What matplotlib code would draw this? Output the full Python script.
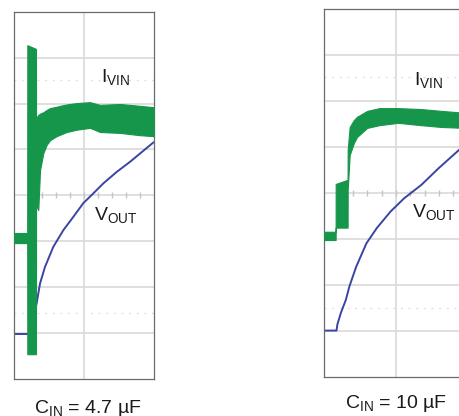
import matplotlib
matplotlib.use("Agg")
import matplotlib.pyplot as plt
import numpy as np

plt.rcParams['font.family'] = ['Liberation Sans', 'DejaVu Sans']
plt.rcParams['mathtext.fontset'] = 'custom'
plt.rcParams['mathtext.rm'] = 'Liberation Sans'
plt.rcParams['mathtext.it'] = 'Liberation Sans'

# ---- data (scope divisions: x -1..1, y -4..4) ----
# Left panel, C_IN = 4.7 uF
left_ivin_x = [-1.0, -0.815, -0.813, -0.689, -0.688, -0.656, -0.631, -0.584, -0.536,
               -0.488, -0.392, -0.344, -0.248, -0.105, 0.086, 0.230, 0.517, 0.803, 1.0]
left_ivin_hi = [-0.82, -0.82, 3.27, 3.19, 1.68, 1.75, 1.78, 1.81, 1.86,
                1.90, 1.93, 1.95, 1.98, 2.01, 2.03, 1.97, 1.99, 1.95, 1.92]
left_ivin_lo = [-1.04, -1.04, -3.46, -3.46, -0.21, -0.32, 0.55, 0.92, 1.10,
                1.20, 1.29, 1.32, 1.38, 1.43, 1.47, 1.38, 1.36, 1.31, 1.29]
left_vout_x = [-1.0, -0.72, -0.689, -0.679, -0.631, -0.560, -0.440, -0.297, -0.154,
               -0.010, 0.110, 0.277, 0.469, 0.660, 0.851, 0.994]
left_vout_y = [-3.02, -3.02, -2.41, -2.35, -1.92, -1.56, -1.12, -0.76, -0.47,
               -0.17, 0.007, 0.26, 0.51, 0.73, 0.97, 1.15]

# Right panel, C_IN = 10 uF
right_ivin_x = [-1.0, -0.842, -0.841, -0.675, -0.674, -0.646, -0.588, -0.545, -0.402,
                -0.230, 0.029, 0.344, 0.631, 0.95]
right_ivin_hi = [-0.84, -0.84, 0.20, 0.29, 0.94, 1.44, 1.59, 1.66, 1.79,
                 1.85, 1.85, 1.83, 1.79, 1.75]
right_ivin_lo = [-1.02, -1.02, -0.75, -0.75, 0.07, 0.83, 1.09, 1.22, 1.42,
                 1.48, 1.53, 1.48, 1.44, 1.42]
right_vout_x = [-1.0, -0.830, -0.818, -0.770, -0.699, -0.650, -0.555, -0.412, -0.268,
                -0.076, 0.115, 0.354, 0.593, 0.879, 0.95]
right_vout_y = [-2.99, -2.99, -2.86, -2.61, -2.32, -2.03, -1.60, -1.09, -0.76,
                -0.40, -0.11, 0.18, 0.54, 0.94, 1.03]

captions = [r'C$_{\mathrm{IN}}$ = 4.7 µF', r'C$_{\mathrm{IN}}$ = 10 µF']
label_ivin = r'I$_{\mathrm{VIN}}$'
label_vout = r'V$_{\mathrm{OUT}}$'

GREEN = '#16964a'
BLUE = '#3b44a2'
GRID = '#dcdcdc'

W, H = 459, 416
fig = plt.figure(figsize=(W / 100, H / 100), dpi=100)

def px_axes(x0, y0, x1, y1):
    return fig.add_axes([x0 / W, 1 - y1 / H, (x1 - x0) / W, (y1 - y0) / H])

axL = px_axes(14.3, 11.7, 153.7, 379.0)
axR = px_axes(324.3, 9.3, 467.7, 377.0)

def decorate(ax, dots):
    ax.set_xlim(-1, 1)
    ax.set_ylim(-4, 4)
    ax.set_xticks([])
    ax.set_yticks([])
    for s in ax.spines.values():
        s.set_color('#6a6a6a')
        s.set_linewidth(0.9)
    for yv in range(-3, 4):
        ax.axhline(yv, color=GRID, lw=1.3, zorder=0)
    ax.axvline(0, color=GRID, lw=1.3, zorder=0)
    tx = np.arange(-0.8, 0.81, 0.2)
    ax.plot(tx, np.zeros_like(tx), ls='none', marker='|', ms=4, mew=1.0,
            color='#c4c4c4', zorder=0)
    for yv in dots:
        ax.axhline(yv, color='#e2e2e2', lw=1.0, ls=(0, (1.5, 4)), zorder=0)

decorate(axL, [2.51, -2.56])
decorate(axR, [2.53, -2.49])

for ax, gx, ghi, glo, vx, vy in [
        (axL, left_ivin_x, left_ivin_hi, left_ivin_lo, left_vout_x, left_vout_y),
        (axR, right_ivin_x, right_ivin_hi, right_ivin_lo, right_vout_x, right_vout_y)]:
    ax.plot(vx, vy, color=BLUE, lw=1.4, zorder=2, solid_joinstyle='round')
    ax.fill_between(gx, glo, ghi, color=GREEN, lw=0.8, edgecolor=GREEN, zorder=3)

fs = 14
def ftxt(x, y, s, **kw):
    fig.text(x / W, 1 - y / H, s, fontsize=fs, color='#1a1a1a', va='baseline', **kw)

ftxt(101, 82, label_ivin, ha='left')
ftxt(94, 220, label_vout, ha='left')
ftxt(414, 85, label_ivin, ha='left')
ftxt(412, 217, label_vout, ha='left')
ftxt(88, 413, captions[0], ha='center')
ftxt(396, 408, captions[1], ha='center')

fig.savefig('out.png', dpi=100)
